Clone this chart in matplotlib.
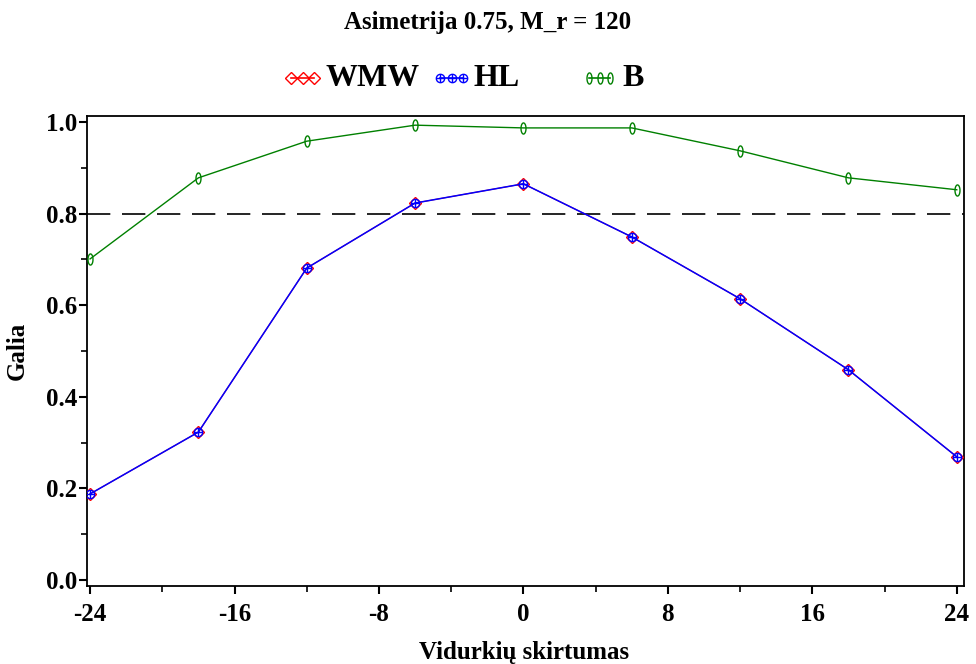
import matplotlib
matplotlib.use("Agg")
import matplotlib.pyplot as plt
from matplotlib.lines import Line2D
from matplotlib.path import Path
from matplotlib.ticker import MultipleLocator, FixedLocator
import numpy as np

# mean differences and power estimates
diffs = [-24, -18, -12, -6, 0, 6, 12, 18, 24]
wmw = [0.188, 0.323, 0.681, 0.823, 0.865, 0.749, 0.614, 0.459, 0.269]
hl = [0.188, 0.323, 0.681, 0.823, 0.865, 0.749, 0.614, 0.459, 0.269]
b = [0.701, 0.878, 0.958, 0.993, 0.987, 0.987, 0.937, 0.878, 0.852]
power_ref = 0.8

x_ticks = [-24, -16, -8, 0, 8, 16, 24]
y_ticks = [0.0, 0.2, 0.4, 0.6, 0.8, 1.0]

plt.rcParams["font.family"] = ["Liberation Serif", "DejaVu Serif"]
plt.rcParams["font.weight"] = "bold"

# narrow oval "0" marker for B
t = np.linspace(0, 2 * np.pi, 40)
oval = Path(np.column_stack([0.45 * np.cos(t), np.sin(t)]))

W, H = 976, 664
fig = plt.figure(figsize=(W / 100, H / 100), dpi=100)
ax = fig.add_axes([87 / W, 1 - 586 / H, (964 - 87) / W, (586 - 116) / H])

ax.plot(diffs, wmw, color="red", lw=0.8, marker="D", ms=6.5, mfc="none",
        mec="red", mew=1.0, zorder=3)
ax.plot(diffs, hl, color="blue", lw=1.1, marker="o", ms=6, mfc="none",
        mec="blue", mew=1.0, zorder=4)
ax.plot(diffs, hl, ls="none", marker="+", ms=6, mec="blue", mew=1.0, zorder=4)
ax.plot(diffs, b, color="green", lw=1.0, marker=oval, ms=8, mfc="none",
        mec="green", mew=1.0, zorder=3)
ax.axhline(power_ref, color="black", lw=1.2, dashes=(14, 7), zorder=2)

ax.set_xlim(-24.17, 24.4)
ax.set_ylim(-0.013, 1.013)
ax.xaxis.set_major_locator(FixedLocator(x_ticks))
ax.xaxis.set_minor_locator(MultipleLocator(4))
ax.yaxis.set_major_locator(FixedLocator(y_ticks))
ax.yaxis.set_minor_locator(MultipleLocator(0.1))
ax.set_xticklabels([f"{v:d}" for v in x_ticks])
ax.set_yticklabels([f"{v:.1f}" for v in y_ticks])
ax.tick_params(axis="both", which="major", direction="out", length=6,
               width=1.5, labelsize=18)
ax.tick_params(axis="y", which="major", pad=1)
ax.tick_params(axis="x", which="major", pad=6)
ax.tick_params(axis="both", which="minor", direction="out", length=4,
               width=1.2)
for side in ax.spines.values():
    side.set_linewidth(1.3)

fig.text(524 / W, 1 - 659 / H, "Vidurkių skirtumas", ha="center",
         va="baseline", fontsize=18, fontweight="bold")
fig.text(17 / W, 1 - 351 / H, "Galia", ha="center", va="center",
         rotation=90, fontsize=18, fontweight="bold")
fig.text(488 / W, 1 - 23 / H, "Asimetrija 0.75, M_r = 120", ha="center",
         va="center", fontsize=18, fontweight="bold")

# legend row: three-marker samples followed by labels
legend_y = 1 - 78 / H
entries = [
    (291, 314, 325, "WMW", dict(color="red", marker="D", ms=6.5)),
    (440, 463, 474, "HL", dict(color="blue", marker="o", ms=6)),
    (589, 610, 622, "B", dict(color="green", marker=oval, ms=8)),
]
for x0, x1, xt, label, style in entries:
    xs = np.linspace(x0, x1, 3) / W
    fig.add_artist(Line2D(xs, [legend_y] * 3, lw=1.2, mfc="none",
                          mew=1.0, transform=fig.transFigure, **style))
    if label == "HL":
        fig.add_artist(Line2D(xs, [legend_y] * 3, ls="none", marker="+",
                              ms=6, mew=1.0, color="blue",
                              transform=fig.transFigure))
    fig.text(xt / W, legend_y, label, ha="left", va="center",
             fontsize=23, fontweight="bold")

fig.savefig("out.png", dpi=100)
